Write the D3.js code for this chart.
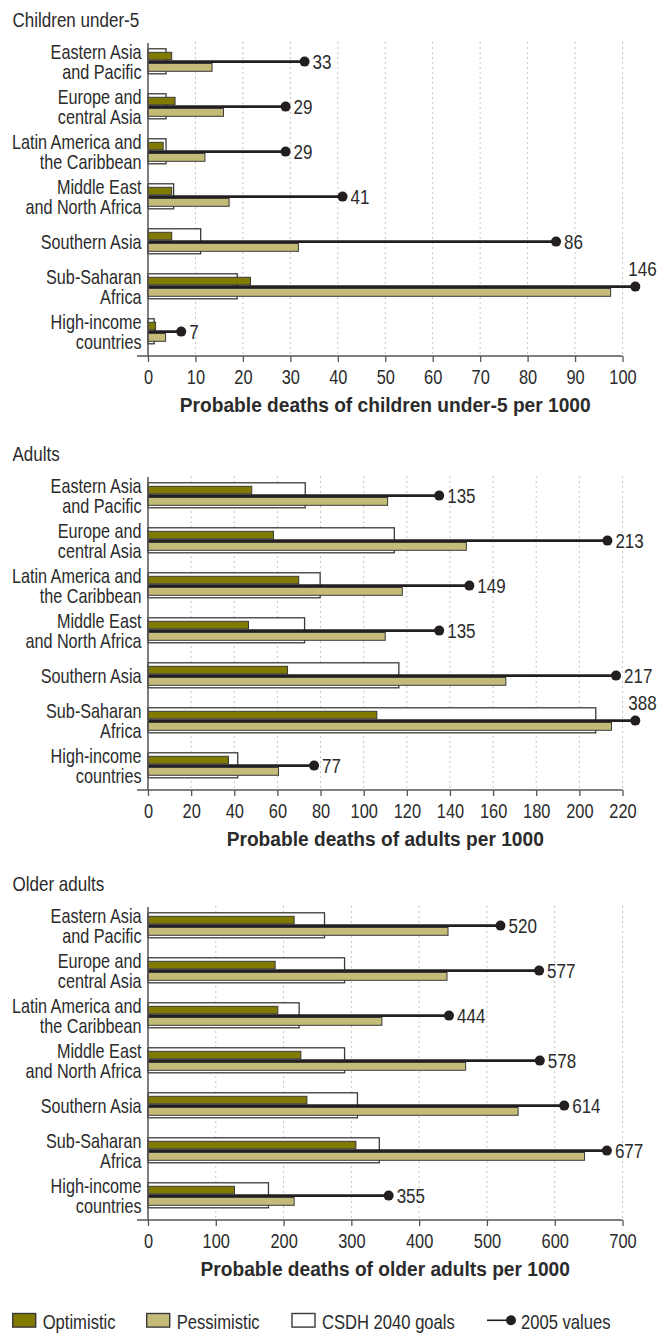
<!DOCTYPE html>
<html><head><meta charset="utf-8">
<script src="https://cdn.jsdelivr.net/npm/d3@7"></script>
<style>
html,body{margin:0;padding:0;background:#fff;}
svg text{font-family:"Liberation Sans",Arial,sans-serif;fill:#2b2b2b;}
</style></head>
<body><svg id="c" width="663" height="1333"></svg>
<script>
const categories = ["Eastern Asia and Pacific","Europe and central Asia","Latin America and the Caribbean","Middle East and North Africa","Southern Asia","Sub-Saharan Africa","High-income countries"];
const categoryLines = [["Eastern Asia","and Pacific"],["Europe and","central Asia"],["Latin America and","the Caribbean"],["Middle East","and North Africa"],["Southern Asia"],["Sub-Saharan","Africa"],["High-income","countries"]];

const under5Optimistic  = [5.0, 5.7, 3.2, 5.0, 5.0, 21.6, 1.6];
const under5Pessimistic = [13.5, 15.9, 12.0, 17.1, 31.7, 97.5, 3.7];
const under5Goals       = [3.8, 3.8, 3.8, 5.4, 11.1, 18.8, 1.3];
const under5Values2005  = [33, 29, 29, 41, 86, 146, 7];
const under5Ticks       = [0,10,20,30,40,50,60,70,80,90,100];

const adultOptimistic  = [48.1, 58.2, 69.9, 46.6, 64.7, 106.1, 37.3];
const adultPessimistic = [111.1, 147.6, 117.9, 110.0, 165.9, 214.9, 60.5];
const adultGoals       = [72.9, 114.2, 79.8, 72.6, 116.3, 207.6, 41.6];
const adultValues2005  = [135, 213, 149, 135, 217, 388, 77];
const adultTicks       = [0,20,40,60,80,100,120,140,160,180,200,220];

const olderOptimistic  = [215.6, 187.6, 191.5, 225.5, 234.4, 306.7, 127.5];
const olderPessimistic = [442.6, 441.1, 345.0, 468.6, 546.0, 644.0, 215.6];
const olderGoals       = [260.4, 290.0, 223.0, 290.0, 309.0, 341.2, 177.7];
const olderValues2005  = [520, 577, 444, 578, 614, 677, 355];
const olderTicks       = [0,100,200,300,400,500,600,700];

const panelTitles = ["Children under-5","Adults","Older adults"];
const axisTitles = ["Probable deaths of children under-5 per 1000","Probable deaths of adults per 1000","Probable deaths of older adults per 1000"];
const legendLabels = ["Optimistic","Pessimistic","CSDH 2040 goals","2005 values"];

const COL_OPT = "#807a00", COL_PESS = "#c4bb78", COL_LINE = "#231f20", COL_EDGE = "#3a3a3a";

const svg = d3.select("#c");

// horizontally condense text around its own x anchor
function condense(sel, s) {
  sel.each(function() {
    const x0 = parseFloat(this.getAttribute("x")) || 0;
    this.setAttribute("transform", `translate(${x0 * (1 - s)},0) scale(${s},1)`);
  });
}

const panels = [
  {opt: under5Optimistic, pess: under5Pessimistic, goal: under5Goals, v: under5Values2005, ticks: under5Ticks},
  {opt: adultOptimistic, pess: adultPessimistic, goal: adultGoals, v: adultValues2005, ticks: adultTicks},
  {opt: olderOptimistic, pess: olderPessimistic, goal: olderGoals, v: olderValues2005, ticks: olderTicks}
];
const offsets = [0, 434, 864];

panels.forEach((p, pi) => {
  const g = svg.append("g").attr("transform", `translate(0,${offsets[pi]})`);
  const xmax = p.ticks[p.ticks.length-1];
  const x = d3.scaleLinear().domain([0, xmax]).range([148, 622.5]);
  const y = d3.scaleBand().domain(categories).range([48.3, 344.3]).paddingInner(0.422).paddingOuter(0);
  const axisY = 356;
  const gridTop = 42;

  g.append("text").attr("x", 12.5).attr("y", 27.3).attr("font-size", 20.5).text(panelTitles[pi])
    .call(condense, 0.83);

  // grid
  g.append("g").selectAll("line").data(p.ticks.slice(1)).join("line")
    .attr("x1", d => x(d)).attr("x2", d => x(d)).attr("y1", gridTop).attr("y2", axisY)
    .attr("stroke", "#c4c4c4").attr("stroke-width", 1).attr("stroke-dasharray", "2,3");

  const rows = categories.map((c, i) => ({c, i, opt: p.opt[i], pess: p.pess[i], goal: p.goal[i], v: p.v[i]}));
  const bw = y.bandwidth();

  const rg = g.append("g").selectAll("g").data(rows).join("g")
    .attr("transform", d => `translate(0,${y(d.c)})`);

  rg.append("rect").attr("x", x(0)).attr("y", 0.5).attr("height", bw - 1)
    .attr("width", d => x(d.goal) - x(0)).attr("fill", "#fff").attr("stroke", COL_EDGE).attr("stroke-width", 1.3);
  rg.append("rect").attr("x", x(0)).attr("y", 4).attr("height", 7.5)
    .attr("width", d => x(d.opt) - x(0)).attr("fill", COL_OPT).attr("stroke", COL_EDGE).attr("stroke-width", 1);
  rg.append("rect").attr("x", x(0)).attr("y", 15.2).attr("height", 7.8)
    .attr("width", d => x(d.pess) - x(0)).attr("fill", COL_PESS).attr("stroke", COL_EDGE).attr("stroke-width", 1);

  const pos = d => x(Math.min(d.v, xmax * 1.027));
  rg.append("line").attr("x1", x(0)).attr("x2", pos).attr("y1", 13.3).attr("y2", 13.3)
    .attr("stroke", COL_LINE).attr("stroke-width", 2.8);
  rg.append("circle").attr("cx", pos).attr("cy", 13.3).attr("r", 5).attr("fill", COL_LINE);
  rg.append("text")
    .attr("x", d => d.v > xmax ? pos(d) - 7 : pos(d) + 8)
    .attr("y", d => d.v > xmax ? 2.3 : 20.3)
    .attr("font-size", 20.5).text(d => d.v)
    .call(condense, 0.83);

  // category labels
  rg.each(function(d) {
    const lines = categoryLines[d.i];
    const t = d3.select(this).append("text").attr("text-anchor", "end").attr("font-size", 20.5).attr("x", 141.5);
    const c = bw / 2;
    lines.forEach((l, k) => {
      const cy = c + (k - (lines.length - 1) / 2) * 20;
      t.append("tspan").attr("x", 141.5).attr("y", cy + 7.3).text(l);
    });
    condense(t, 0.79);
  });

  // left axis line
  g.append("line").attr("x1", x(0)).attr("x2", x(0)).attr("y1", 43).attr("y2", axisY).attr("stroke", "#555").attr("stroke-width", 1.5);

  // x axis
  const ax = g.append("g").attr("transform", `translate(0,${axisY})`)
    .call(d3.axisBottom(x).tickValues(p.ticks).tickSize(6).tickPadding(7.5).tickSizeOuter(0));
  ax.attr("font-family", null).attr("font-size", null);
  ax.select(".domain").remove();
  ax.selectAll(".tick line").attr("stroke", "#555").attr("stroke-width", 1.3);
  ax.selectAll(".tick text").attr("font-size", 20.5).attr("fill", "#2b2b2b").call(condense, 0.8);
  g.append("line").attr("x1", 137).attr("x2", x(xmax)).attr("y1", axisY).attr("y2", axisY).attr("stroke", "#555").attr("stroke-width", 1.5);

  g.append("text").attr("x", (x(0) + x(xmax)) / 2).attr("y", axisY + 55.7).attr("text-anchor", "middle")
    .attr("font-size", 20.5).attr("font-weight", "bold").text(axisTitles[pi])
    .call(condense, 0.935);
});

// legend
const lg = svg.append("g").attr("transform", "translate(0,1320.3)");
const sw = [{x: 12.7, fill: COL_OPT}, {x: 146.7, fill: COL_PESS}, {x: 292, fill: "#fff"}];
lg.selectAll("rect").data(sw).join("rect").attr("x", d => d.x).attr("y", -6.8).attr("width", 23).attr("height", 13.6)
  .attr("fill", d => d.fill).attr("stroke", COL_EDGE).attr("stroke-width", 1.4);
lg.selectAll("text.l").data(legendLabels.slice(0,3)).join("text").attr("class","l")
  .attr("x", (d, i) => sw[i].x + 30).attr("y", 8.7).attr("font-size", 20.5).text(d => d)
  .call(condense, 0.81);
lg.append("line").attr("x1", 487).attr("x2", 510).attr("y1", 0).attr("y2", 0).attr("stroke", COL_LINE).attr("stroke-width", 1.6);
lg.append("circle").attr("cx", 511).attr("cy", 0).attr("r", 5).attr("fill", COL_LINE);
lg.append("text").attr("x", 521).attr("y", 8.7).attr("font-size", 20.5).text(legendLabels[3])
  .call(condense, 0.81);
</script></body></html>
